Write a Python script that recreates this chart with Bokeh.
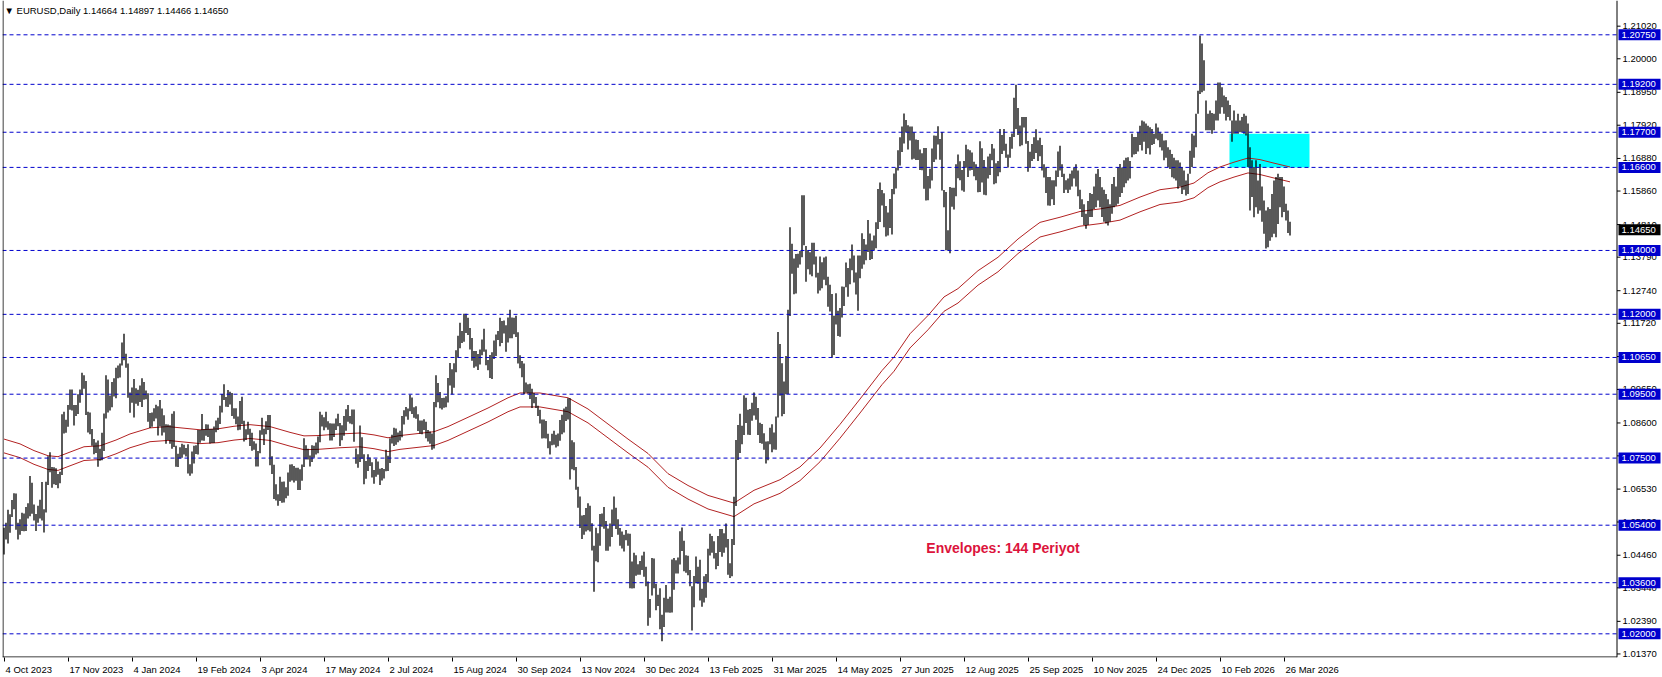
from bokeh.plotting import figure
from bokeh.models import Range1d, FixedTicker, Label, ColumnDataSource
from bokeh.core.properties import value
from bokeh.embed import file_html
from bokeh.resources import INLINE

# ---------------- data (daily bars) ----------------
bar_high = [
    # Oct 2023
    1.0532,1.0548,1.0588,1.0574,1.0619,1.0640,1.0639,1.0548,1.0559,1.0579,1.0577,1.0597,1.0609,1.0694,1.0673,1.0605,1.0575,1.0601,1.0620,1.0675,
    # Nov 2023
    1.0590,1.0676,1.0756,1.0768,1.0722,1.0721,1.0718,1.0700,1.0707,1.0887,1.0895,1.0870,1.0916,1.0965,1.0965,1.0916,1.0916,1.0950,1.0965,1.1017,1.1009,1.0991,
    # Dec 2023
    1.0895,1.0893,1.0841,1.0810,1.0799,1.0805,1.0779,1.0829,1.0890,1.1009,1.0996,1.0946,1.0988,1.1000,1.1033,1.1040,1.1046,1.1112,1.1139,1.1077,
    # Jan 2024
    1.1046,1.0955,1.0971,1.0998,1.0969,1.0964,1.0977,1.1000,1.0988,1.0962,1.0953,1.0891,1.0893,1.0906,1.0917,1.0912,1.0932,1.0905,1.0884,1.0856,1.0855,1.0853,
    # Feb 2024
    1.0889,1.0897,1.0789,1.0764,1.0784,1.0795,1.0792,1.0782,1.0793,1.0731,1.0771,1.0789,1.0790,1.0838,1.0838,1.0888,1.0840,1.0856,1.0855,1.0841,1.0841,
    # Mar 2024
    1.0849,1.0868,1.0876,1.0914,1.0951,1.0981,1.0941,1.0963,1.0958,1.0954,1.0906,1.0906,1.0880,1.0929,1.0942,1.0867,1.0840,1.0864,1.0842,1.0829,1.0803,
    # Apr 2024
    1.0796,1.0772,1.0837,1.0876,1.0842,1.0865,1.0885,1.0885,1.0756,1.0729,1.0668,1.0637,1.0692,1.0676,1.0677,1.0659,1.0705,1.0730,1.0731,1.0725,1.0720,1.0720,
    # May 2024
    1.0715,1.0730,1.0812,1.0790,1.0779,1.0758,1.0790,1.0789,1.0799,1.0818,1.0895,1.0886,1.0878,1.0895,1.0865,1.0859,1.0858,1.0858,1.0874,1.0889,1.0860,1.0853,1.0882,
    # Jun 2024
    1.0903,1.0916,1.0882,1.0902,1.0902,1.0780,1.0762,1.0852,1.0815,1.0762,1.0741,1.0762,1.0752,1.0737,1.0713,1.0747,1.0739,1.0717,1.0719,1.0716,
    # Jul 2024
    1.0776,1.0757,1.0812,1.0823,1.0845,1.0843,1.0830,1.0836,1.0882,1.0900,1.0910,1.0905,1.0948,1.0940,1.0909,1.0912,1.0887,1.0868,1.0868,1.0872,1.0864,1.0838,1.0833,
    # Aug 2024
    1.0827,1.0926,1.1009,1.0985,1.0957,1.0938,1.0939,1.0944,1.1001,1.1048,1.1028,1.1047,1.1088,1.1133,1.1174,1.1148,1.1202,1.1202,1.1189,1.1157,1.1126,1.1085,
    # Sep 2024
    1.1085,1.1076,1.1090,1.1121,1.1155,1.1090,1.1057,1.1073,1.1081,1.1118,1.1137,1.1148,1.1189,1.1179,1.1181,1.1166,1.1190,1.1214,1.1190,1.1189,1.1196,
    # Oct 2024
    1.1144,1.1072,1.1054,1.1046,1.0987,1.0981,1.0983,1.0967,1.0954,1.0941,1.0914,1.0901,1.0871,1.0871,1.0866,1.0826,1.0803,1.0826,1.0836,1.0823,1.0827,1.0869,1.0886,
    # Nov 2024
    1.0905,1.0911,1.0937,1.0937,1.0806,1.0800,1.0722,1.0660,1.0630,1.0570,1.0572,1.0594,1.0609,1.0601,1.0546,1.0476,1.0532,1.0515,1.0575,1.0577,1.0597,
    # Dec 2024
    1.0553,1.0530,1.0545,1.0589,1.0630,1.0595,1.0559,1.0531,1.0520,1.0510,1.0525,1.0514,1.0513,1.0426,1.0454,1.0446,1.0418,1.0428,1.0445,1.0457,1.0410,
    # Jan 2025
    1.0364,1.0309,1.0437,1.0436,1.0357,1.0322,1.0343,1.0260,1.0313,1.0353,1.0310,1.0316,1.0433,1.0437,1.0430,1.0439,1.0521,1.0533,1.0491,1.0446,1.0444,1.0400,
    # Feb 2025
    1.0349,1.0381,1.0442,1.0410,1.0432,1.0341,1.0380,1.0387,1.0466,1.0513,1.0506,1.0490,1.0453,1.0506,1.0528,1.0528,1.0515,1.0545,1.0497,1.0421,
    # Mar 2025
    1.0497,1.0629,1.0807,1.0854,1.0889,1.0851,1.0947,1.0939,1.0901,1.0904,1.0923,1.0955,1.0942,1.0907,1.0861,1.0857,1.0828,1.0802,1.0803,1.0845,1.0856,
    # Apr 2025
    1.0830,1.0880,1.1145,1.1107,1.1047,1.0990,1.1070,1.1214,1.1473,1.1421,1.1375,1.1389,1.1390,1.1398,1.1573,1.1573,1.1414,1.1401,1.1394,1.1424,1.1424,1.1381,
    # May 2025
    1.1330,1.1381,1.1363,1.1378,1.1381,1.1318,1.1293,1.1264,1.1196,1.1266,1.1211,1.1220,1.1287,1.1286,1.1362,1.1345,1.1375,1.1419,1.1384,1.1331,1.1384,1.1384,
    # Jun 2025
    1.1454,1.1436,1.1419,1.1495,1.1453,1.1431,1.1447,1.1488,1.1592,1.1613,1.1589,1.1579,1.1539,1.1519,1.1561,1.1592,1.1641,1.1659,1.1714,1.1754,1.1788,
    # Jul 2025
    1.1829,1.1808,1.1792,1.1788,1.1788,1.1770,1.1747,1.1746,1.1716,1.1704,1.1721,1.1721,1.1633,1.1656,1.1719,1.1760,1.1759,1.1789,1.1749,1.1771,1.1589,1.1583,1.1463,
    # Aug 2025
    1.1599,1.1596,1.1596,1.1670,1.1700,1.1679,1.1652,1.1680,1.1731,1.1717,1.1714,1.1707,1.1678,1.1670,1.1660,1.1742,1.1720,1.1683,1.1660,1.1694,1.1703,
    # Sep 2025
    1.1733,1.1719,1.1673,1.1680,1.1780,1.1761,1.1780,1.1734,1.1700,1.1755,1.1766,1.1878,1.1919,1.1846,1.1791,1.1818,1.1818,1.1818,1.1743,1.1709,1.1733,1.1754,
    # Oct 2025
    1.1779,1.1745,1.1753,1.1730,1.1670,1.1660,1.1630,1.1630,1.1620,1.1620,1.1650,1.1710,1.1728,1.1670,1.1640,1.1620,1.1625,1.1640,1.1650,1.1660,1.1670,1.1650,1.1590,
    # Nov 2025
    1.1560,1.1545,1.1515,1.1555,1.1580,1.1577,1.1600,1.1640,1.1655,1.1630,1.1598,1.1590,1.1577,1.1560,1.1545,1.1608,1.1630,1.1600,1.1661,1.1671,
    # Dec 2025
    1.1660,1.1682,1.1690,1.1692,1.1680,1.1765,1.1755,1.1755,1.1770,1.1790,1.1807,1.1804,1.1797,1.1790,1.1786,1.1780,1.1765,1.1797,1.1785,1.1770,1.1765,1.1744,
    # Jan 2026
    1.1745,1.1723,1.1715,1.1702,1.1690,1.1682,1.1682,1.1675,1.1661,1.1650,1.1619,1.1640,1.1712,1.1765,1.1760,1.1828,1.1900,1.2073,1.2048,1.1995,1.1869,
    # Feb 2026
    1.1828,1.1838,1.1830,1.1828,1.1869,1.1926,1.1926,1.1911,1.1885,1.1880,1.1869,1.1855,1.1807,1.1838,1.1807,1.1828,1.1807,1.1818,1.1828,1.1822,
    # Mar 2026
    1.1797,1.1723,1.1682,1.1661,1.1682,1.1619,1.1671,1.1600,1.1556,1.1525,1.1535,1.1530,1.1577,1.1619,1.1630,1.1640,1.1630,1.1630,1.1600,1.1546,1.1525,1.1490,
]

bar_low = [
    # Oct 2023
    1.0448,1.0495,1.0483,1.0516,1.0566,1.0590,1.0526,1.0495,1.0510,1.0522,1.0521,1.0522,1.0561,1.0568,1.0576,1.0555,1.0522,1.0548,1.0561,1.0555,
    # Nov 2023
    1.0517,1.0580,1.0666,1.0706,1.0657,1.0668,1.0666,1.0656,1.0671,1.0697,1.0827,1.0829,1.0848,1.0901,1.0899,1.0852,1.0882,1.0888,1.0923,1.0948,1.0967,1.0885,
    # Dec 2023
    1.0830,1.0825,1.0789,1.0762,1.0766,1.0723,1.0742,1.0743,1.0772,1.0874,1.0893,1.0899,1.0909,1.0943,1.0937,1.1000,1.1002,1.1040,1.1056,1.1033,
    # Jan 2024
    1.0939,1.0892,1.0923,1.0877,1.0920,1.0914,1.0926,1.0910,1.0933,1.0934,1.0864,1.0844,1.0848,1.0865,1.0874,1.0821,1.0849,1.0821,1.0830,1.0795,1.0807,1.0795,
    # Feb 2024
    1.0779,1.0785,1.0723,1.0722,1.0749,1.0751,1.0761,1.0755,1.0702,1.0695,1.0702,1.0733,1.0763,1.0761,1.0798,1.0805,1.0804,1.0820,1.0816,1.0796,1.0797,
    # Mar 2024
    1.0797,1.0831,1.0838,1.0857,1.0893,1.0932,1.0911,1.0910,1.0918,1.0882,1.0873,1.0856,1.0837,1.0839,1.0856,1.0802,1.0807,1.0823,1.0788,1.0773,1.0776,
    # Apr 2024
    1.0724,1.0724,1.0765,1.0823,1.0791,1.0825,1.0838,1.0728,1.0700,1.0622,1.0617,1.0601,1.0616,1.0610,1.0611,1.0624,1.0632,1.0676,1.0680,1.0674,1.0679,1.0650,
    # May 2024
    1.0650,1.0679,1.0722,1.0746,1.0746,1.0724,1.0738,1.0751,1.0761,1.0765,1.0800,1.0849,1.0837,1.0846,1.0839,1.0805,1.0805,1.0816,1.0838,1.0850,1.0788,1.0806,1.0820,
    # Jun 2024
    1.0836,1.0864,1.0858,1.0856,1.0801,1.0732,1.0720,1.0738,1.0748,1.0668,1.0685,1.0710,1.0725,1.0689,1.0670,1.0692,1.0698,1.0666,1.0680,1.0686,
    # Jul 2024
    1.0709,1.0710,1.0735,1.0796,1.0788,1.0792,1.0800,1.0805,1.0815,1.0855,1.0880,1.0870,1.0897,1.0888,1.0876,1.0873,1.0835,1.0826,1.0825,1.0838,1.0812,1.0802,1.0795,
    # Aug 2024
    1.0776,1.0780,1.0909,1.0925,1.0906,1.0902,1.0908,1.0909,1.0924,1.0977,1.0949,1.0970,1.1019,1.1065,1.1094,1.1110,1.1114,1.1142,1.1135,1.1090,1.1055,1.1033,
    # Sep 2024
    1.1037,1.1026,1.1043,1.1072,1.1083,1.1041,1.1025,1.1001,1.0998,1.1060,1.1070,1.1120,1.1100,1.1110,1.1140,1.1083,1.1112,1.1125,1.1125,1.1138,1.1129,
    # Oct 2024
    1.1046,1.1031,1.1003,1.0951,1.0955,1.0952,1.0935,1.0907,1.0922,1.0907,1.0882,1.0858,1.0811,1.0812,1.0811,1.0781,1.0761,1.0790,1.0792,1.0783,1.0787,1.0804,1.0825,
    # Nov 2024
    1.0830,1.0866,1.0871,1.0683,1.0715,1.0712,1.0651,1.0595,1.0531,1.0497,1.0510,1.0520,1.0524,1.0520,1.0461,1.0332,1.0427,1.0424,1.0476,1.0535,1.0529,
    # Dec 2024
    1.0460,1.0460,1.0473,1.0503,1.0540,1.0528,1.0510,1.0476,1.0467,1.0458,1.0493,1.0476,1.0343,1.0342,1.0343,1.0382,1.0385,1.0385,1.0400,1.0379,1.0349,
    # Jan 2025
    1.0225,1.0250,1.0320,1.0343,1.0274,1.0287,1.0214,1.0177,1.0221,1.0267,1.0267,1.0266,1.0267,1.0338,1.0389,1.0389,1.0417,1.0459,1.0396,1.0391,1.0383,1.0349,
    # Feb 2025
    1.0210,1.0283,1.0358,1.0357,1.0304,1.0285,1.0298,1.0313,1.0361,1.0445,1.0454,1.0436,1.0402,1.0412,1.0456,1.0441,1.0454,1.0470,1.0385,1.0375,
    # Mar 2025
    1.0380,1.0478,1.0600,1.0744,1.0766,1.0793,1.0822,1.0860,1.0823,1.0822,1.0867,1.0883,1.0870,1.0822,1.0797,1.0795,1.0776,1.0733,1.0743,1.0793,1.0768,
    # Apr 2025
    1.0777,1.0776,1.0877,1.0945,1.0881,1.0888,1.0950,1.0951,1.1195,1.1327,1.1263,1.1265,1.1346,1.1356,1.1379,1.1416,1.1302,1.1341,1.1325,1.1319,1.1356,1.1315,
    # May 2025
    1.1265,1.1275,1.1282,1.1308,1.1291,1.1224,1.1209,1.1065,1.1073,1.1168,1.1132,1.1130,1.1190,1.1226,1.1285,1.1255,1.1294,1.1338,1.1300,1.1262,1.1211,1.1313,
    # Jun 2025
    1.1343,1.1356,1.1369,1.1395,1.1370,1.1373,1.1401,1.1407,1.1467,1.1489,1.1541,1.1473,1.1444,1.1447,1.1470,1.1450,1.1576,1.1594,1.1650,1.1666,1.1708,
    # Jul 2025
    1.1735,1.1770,1.1716,1.1744,1.1685,1.1687,1.1683,1.1683,1.1652,1.1651,1.1593,1.1556,1.1557,1.1594,1.1619,1.1677,1.1685,1.1732,1.1684,1.1588,1.1535,1.1401,1.1400,
    # Aug 2025
    1.1391,1.1537,1.1528,1.1570,1.1626,1.1620,1.1588,1.1584,1.1659,1.1630,1.1650,1.1652,1.1632,1.1620,1.1582,1.1583,1.1613,1.1574,1.1573,1.1625,1.1636,
    # Sep 2025
    1.1682,1.1607,1.1610,1.1632,1.1645,1.1702,1.1712,1.1690,1.1660,1.1690,1.1718,1.1755,1.1780,1.1761,1.1726,1.1729,1.1785,1.1734,1.1646,1.1658,1.1680,1.1686,
    # Oct 2025
    1.1705,1.1680,1.1695,1.1650,1.1628,1.1580,1.1541,1.1540,1.1560,1.1542,1.1600,1.1630,1.1650,1.1630,1.1580,1.1590,1.1580,1.1590,1.1600,1.1625,1.1600,1.1570,1.1530,
    # Nov 2025
    1.1505,1.1480,1.1468,1.1480,1.1505,1.1505,1.1530,1.1535,1.1556,1.1535,1.1505,1.1490,1.1484,1.1478,1.1490,1.1515,1.1535,1.1540,1.1546,1.1567,
    # Dec 2025
    1.1580,1.1598,1.1610,1.1619,1.1625,1.1692,1.1700,1.1702,1.1710,1.1730,1.1713,1.1740,1.1702,1.1720,1.1700,1.1730,1.1733,1.1750,1.1745,1.1723,1.1713,1.1682,
    # Jan 2026
    1.1690,1.1661,1.1655,1.1629,1.1625,1.1619,1.1593,1.1600,1.1577,1.1590,1.1572,1.1577,1.1640,1.1661,1.1690,1.1723,1.1828,1.1890,1.1895,1.1900,1.1776,
    # Feb 2026
    1.1776,1.1776,1.1765,1.1776,1.1807,1.1807,1.1828,1.1848,1.1828,1.1807,1.1818,1.1807,1.1740,1.1765,1.1765,1.1765,1.1770,1.1770,1.1765,1.1760,
    # Mar 2026
    1.1661,1.1525,1.1567,1.1504,1.1535,1.1515,1.1525,1.1490,1.1452,1.1406,1.1410,1.1430,1.1441,1.1452,1.1441,1.1483,1.1535,1.1504,1.1520,1.1494,1.1455,1.1447,
]

# Envelopes(144): moving-average centre line read at sample bars, deviation 0.2 %
env_idx = [0,8,15,22,27,32,40,48,56,63,73,82,90,98,107,115,123,133,143,150,
           157,168,178,185,192,198,208,215,222,232,242,252,258,268,282,292,302,312,322,332,
           342,352,365,375,388,398,408,418,428,439,445,453,462,470,477,487,497,507,513,518,
           528,538,548,558,568,578,588,595,602,608,615,622,628,635,643]
env_ma = [1.0788,1.0773,1.0752,1.0736,1.0733,1.0745,1.0764,1.0767,1.0785,1.0804,
          1.0823,1.0827,1.0822,1.0817,1.0820,1.0828,1.0833,1.0827,1.0809,1.0798,
          1.0799,1.0804,1.0807,1.0801,1.0792,1.0799,1.0806,1.0811,1.0827,1.0856,
          1.0885,1.0917,1.0932,1.0932,1.0917,1.0882,1.0835,1.0788,1.0743,1.0680,
          1.0643,1.0612,1.0588,1.0628,1.0661,1.0701,1.0760,1.0834,1.0913,1.1002,
          1.1044,1.1117,1.1174,1.1232,1.1258,1.1314,1.1356,1.1413,1.1442,1.1465,
          1.1481,1.1499,1.1507,1.1518,1.1544,1.1567,1.1575,1.1588,1.1620,1.1638,
          1.1653,1.1666,1.1661,1.1650,1.1638]
env_deviation = 0.002

# horizontal levels
level_prices = [1.2075, 1.1920, 1.1770, 1.1660, 1.1400, 1.1200, 1.1065, 1.0950, 1.0750, 1.0540, 1.0360, 1.0200]
current_price = 1.14650

# right price scale ticks
price_ticks = [1.21020, 1.20000, 1.18950, 1.17920, 1.16880, 1.15860, 1.14810, 1.13790, 1.12740, 1.11720,
               1.10680, 1.09650, 1.08600, 1.07570, 1.06530, 1.05500, 1.04460, 1.03440, 1.02390, 1.01370]

# time scale labels (every 32 bars)
date_tick_idx = [0, 32, 64, 96, 128, 160, 192, 224, 256, 288, 320, 352, 384, 416, 448, 480, 512, 544, 576, 608, 640]
date_labels = ["4 Oct 2023", "17 Nov 2023", "4 Jan 2024", "19 Feb 2024", "3 Apr 2024", "17 May 2024",
               "2 Jul 2024", "15 Aug 2024", "30 Sep 2024", "13 Nov 2024", "30 Dec 2024", "13 Feb 2025",
               "31 Mar 2025", "14 May 2025", "27 Jun 2025", "12 Aug 2025", "25 Sep 2025", "10 Nov 2025",
               "24 Dec 2025", "10 Feb 2026", "26 Mar 2026"]

# supply zone rectangle (bar units / price)
zone_start, zone_end = 612.75, 652.75
zone_bottom, zone_top = 1.1660, 1.1765

title_symbol = "EURUSD,Daily"
title_ohlc = [1.14664, 1.14897, 1.14466, 1.14650]
note_text = "Envelopes: 144 Periyot"
note_idx, note_price = 499.5, 1.0470

# ---------------- layout / styling ----------------
FONT = "Liberation Sans"
FS = "9.5px"
LEVEL_COLOR = "#0000CD"
ENV_COLOR = "#B22222"
ZONE_COLOR = "#00FFFF"

FIG_W, FIG_H = 1662, 677
BORDER_L, BORDER_B = 2, 20
FRAME_W = FIG_W - BORDER_L
FRAME_H = FIG_H - BORDER_B
PX_PER_BAR = 2.0
X0 = -0.75
X1 = X0 + FRAME_W / PX_PER_BAR
Y1 = 1.21824
PX_PER_PRICE = 3194.7
Y0 = Y1 - FRAME_H / PX_PER_PRICE


def px_x(px):
    """frame pixel -> bar units"""
    return X0 + px / PX_PER_BAR


def px_y(px):
    """frame pixel from top -> price units"""
    return Y1 - px / PX_PER_PRICE


AXIS_X = px_x(1614.5)          # price-scale line
TICK_END = px_x(1618)
TICK_TEXT_X = px_x(1620)
TAG_CX = px_x(1637)
TAG_TEXT_X = px_x(1619)

# Arial-like advance widths (per 1000 em) to left-align the date labels on their ticks
CW = {' ': 278, 'O': 778, 'N': 722, 'J': 500, 'F': 611, 'A': 667, 'M': 833, 'S': 667, 'D': 722,
      'c': 500, 't': 278, 'o': 556, 'v': 500, 'a': 556, 'n': 556, 'e': 556, 'b': 556, 'p': 556,
      'r': 333, 'y': 500, 'u': 556, 'l': 222, 'g': 556}


def text_w(s, size=9.5):
    return sum(CW.get(c, 556) for c in s) * size / 1000.0


assert len(bar_high) == len(bar_low)
n = len(bar_high)
src = ColumnDataSource(dict(i=list(range(n)), high=bar_high, low=bar_low))

p = figure(width=FIG_W, height=FIG_H, x_range=Range1d(X0, X1), y_range=Range1d(Y0, Y1),
           y_axis_location=None, toolbar_location=None, output_backend="svg",
           min_border_left=BORDER_L, min_border_top=0, min_border_right=0,
           min_border_bottom=BORDER_B)
p.background_fill_color = "white"
p.border_fill_color = "white"
p.outline_line_color = None
p.xgrid.visible = False
p.ygrid.visible = False

# zone (background)
p.quad(left=[zone_start], right=[zone_end], bottom=[zone_bottom], top=[zone_top],
       fill_color=ZONE_COLOR, line_color=None)

# envelopes
env_upper = [m * (1 + env_deviation) for m in env_ma]
env_lower = [m * (1 - env_deviation) for m in env_ma]
p.line(env_idx, env_upper, line_color=ENV_COLOR, line_width=1)
p.line(env_idx, env_lower, line_color=ENV_COLOR, line_width=1)

# bars (high-low)
p.segment(x0="i", y0="low", x1="i", y1="high", source=src, line_color="black", line_width=1.3)

# horizontal dashed levels (up to the price scale)
p.segment(x0=[X0] * len(level_prices), x1=[AXIS_X] * len(level_prices),
          y0=level_prices, y1=level_prices, line_color=LEVEL_COLOR, line_dash="4 3", line_width=1)

# chart frame: left border, bottom border, price-scale line
p.segment(x0=[px_x(0.5), X0, AXIS_X], x1=[px_x(0.5), AXIS_X, AXIS_X],
          y0=[Y0, px_y(656.5), Y0], y1=[Y1, px_y(656.5), Y1], line_color="black", line_width=1)

# price scale: ticks and labels
p.segment(x0=[AXIS_X] * len(price_ticks), x1=[TICK_END] * len(price_ticks),
          y0=price_ticks, y1=price_ticks, line_color="black", line_width=1)
p.text(x=[TICK_TEXT_X] * len(price_ticks), y=price_ticks, text=[f"{t:.5f}" for t in price_ticks],
       text_font=value(FONT), text_font_size=value(FS), text_color="black",
       text_baseline="middle", text_align="left")

# level tags on the scale
tag_prices = level_prices + [current_price]
tag_colors = [LEVEL_COLOR] * len(level_prices) + ["black"]
p.rect(x=[TAG_CX] * len(tag_prices), y=tag_prices, width=42, height=11,
       width_units="screen", height_units="screen", fill_color=tag_colors, line_color=None)
p.text(x=[TAG_TEXT_X] * len(tag_prices), y=tag_prices, text=[f"{t:.5f}" for t in tag_prices],
       text_font=value(FONT), text_font_size=value(FS), text_color="white",
       text_baseline="middle", text_align="left")

# time axis: tick marks at the dates, labels starting just right of each tick
label_pos = [t + (text_w(s) / 2 + 1.5) / PX_PER_BAR for t, s in zip(date_tick_idx, date_labels)]
xa = p.xaxis[0]
xa.ticker = FixedTicker(ticks=label_pos, minor_ticks=date_tick_idx)
xa.major_label_overrides = {lp: s for lp, s in zip(label_pos, date_labels)}
xa.major_label_text_font = FONT
xa.major_label_text_font_size = FS
xa.major_label_text_color = "black"
xa.major_tick_line_color = None
xa.minor_tick_line_color = "black"
xa.minor_tick_out = 4
xa.minor_tick_in = 0
xa.major_tick_out = 4
xa.major_tick_in = 0
xa.major_label_standoff = 2
xa.axis_line_color = None

# chart title (top-left, inside the frame)
title_text = "\u25BC  " + title_symbol + "  " + " ".join(f"{v:.5f}" for v in title_ohlc)
p.add_layout(Label(x=px_x(2), y=px_y(10), text=title_text, text_font=FONT,
                   text_font_size=FS, text_color="black", text_baseline="middle",
                   text_align="left"))

# indicator note
p.add_layout(Label(x=note_idx, y=note_price, text=note_text, text_font=FONT,
                   text_font_size="14px", text_font_style="bold", text_color="#DC143C",
                   text_baseline="middle", text_align="center"))

open("out.html", "w").write(file_html(p, INLINE))
